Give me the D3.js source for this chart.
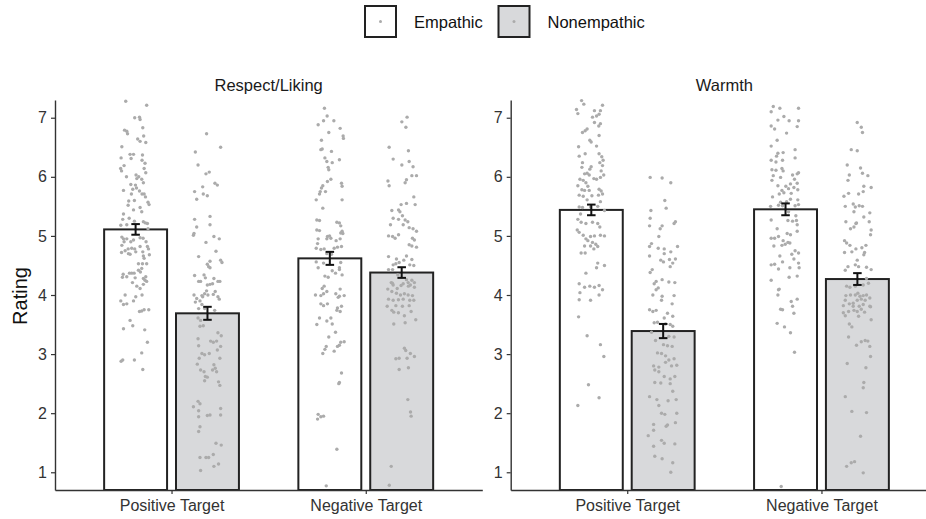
<!DOCTYPE html>
<html>
<head>
<meta charset="utf-8">
<script src="https://cdn.jsdelivr.net/npm/d3@7"></script>
<style>
  body { margin: 0; background: #fff; }
  text { font-family: "Liberation Sans", Arial, Helvetica, sans-serif; }
</style>
</head>
<body>
<div id="chart"></div>
<script>
const facets = ["Respect/Liking", "Warmth"];
const targets = ["Positive Target", "Negative Target"];
const conditions = ["Empathic", "Nonempathic"];
const ratingTicks = [1, 2, 3, 4, 5, 6, 7];

// order: positive/empathic, positive/nonempathic, negative/empathic, negative/nonempathic
const respectMean = [5.11, 3.69, 4.62, 4.38];
const respectSE = [0.09, 0.11, 0.11, 0.09];
const warmthMean = [5.44, 3.39, 5.45, 4.27];
const warmthSE = [0.09, 0.12, 0.10, 0.10];

// individual ratings as [jitter (-1..1), rating]
const respectPosEmp = [[-0.66,7.28],[0.74,7.21],[-0.06,7.00],[0.26,7.01],[0.30,6.97],[-0.74,6.79],[-0.59,6.77],[-0.54,6.73],[0.48,6.83],[0.14,6.64],[0.30,6.60],[0.54,6.69],[0.68,6.58],[-0.92,6.51],[-0.37,6.38],[-0.14,6.38],[0.46,6.37],[-0.97,6.32],[-0.30,6.31],[0.43,6.28],[-1.0,6.14],[-0.77,6.19],[-0.94,6.10],[0.63,6.23],[0.57,6.14],[-0.61,6.00],[0.03,6.03],[0.21,6.00],[0.08,5.97],[0.68,6.07],[0.41,5.96],[0.52,5.90],[-0.01,5.86],[-0.32,5.87],[-0.19,5.79],[0.06,5.81],[-0.81,5.77],[0.26,5.76],[0.43,5.71],[0.57,5.71],[-0.28,5.71],[0.66,5.66],[-0.08,5.60],[-0.46,5.59],[-0.50,5.52],[0.83,5.57],[0.90,5.53],[-0.81,5.37],[-0.14,5.44],[0.30,5.48],[0.41,5.41],[-0.43,5.30],[-0.86,5.28],[-0.08,5.25],[0.52,5.24],[0.66,5.22],[0.79,5.21],[-0.99,5.18],[-0.59,5.19],[0.83,5.12],[-0.92,4.98],[-0.81,4.95],[-0.59,4.95],[-0.77,4.90],[-0.32,4.90],[-0.14,4.93],[0.30,4.97],[0.50,4.96],[0.70,4.90],[0.79,4.82],[-0.92,4.84],[-0.70,4.75],[-0.50,4.78],[-0.26,4.79],[-0.06,4.78],[0.01,4.73],[0.30,4.82],[0.48,4.73],[0.86,4.78],[0.92,4.68],[-0.94,4.72],[-0.48,4.70],[-0.37,4.69],[0.52,4.66],[0.57,4.62],[0.74,4.53],[0.19,4.53],[0.46,4.53],[0.19,4.42],[0.32,4.39],[0.41,4.45],[-0.26,4.37],[-0.41,4.37],[-0.10,4.37],[-0.83,4.35],[-0.88,4.30],[-0.59,4.31],[-0.03,4.29],[0.52,4.28],[0.68,4.31],[0.63,4.25],[0.74,4.23],[0.52,4.18],[0.08,4.15],[0.30,4.11],[-0.21,4.21],[0.43,4.00],[0.01,3.97],[-0.70,4.00],[-0.14,3.90],[-0.99,3.90],[-0.81,3.84],[-0.59,3.85],[0.26,3.72],[0.41,3.73],[0.57,3.75],[0.88,3.75],[-0.37,3.57],[-0.19,3.48],[-0.81,3.43],[0.61,3.41],[0.79,3.20],[0.41,3.02],[-0.86,2.90],[-0.97,2.88],[-0.08,2.90],[0.48,2.74]];
const respectPosNon = [[-0.06,6.73],[0.88,6.50],[-0.81,6.42],[-0.63,6.20],[-0.10,6.05],[0.12,6.08],[0.50,5.89],[0.66,5.86],[-0.32,5.83],[-0.86,5.75],[-0.72,5.62],[-0.28,5.71],[-0.01,5.68],[-0.86,5.28],[-0.72,5.15],[-0.90,5.04],[-0.94,5.01],[0.17,5.33],[0.17,5.19],[-0.10,4.89],[0.43,4.99],[0.79,4.95],[0.57,4.74],[-0.59,4.65],[0.17,4.57],[0.88,4.59],[0.97,4.55],[-0.01,4.52],[0.17,4.46],[0.08,4.48],[-0.86,4.33],[-0.59,4.23],[-0.46,4.23],[-0.14,4.29],[-0.23,4.34],[0.43,4.28],[0.70,4.23],[-0.01,4.17],[0.17,4.18],[0.34,4.19],[0.83,4.23],[-0.90,4.00],[-0.72,3.94],[-0.32,3.97],[-0.19,4.02],[-0.06,4.07],[0.03,4.00],[-0.37,3.99],[0.39,4.01],[0.52,4.06],[0.70,3.97],[-0.50,3.90],[-0.81,3.88],[0.79,3.93],[-0.37,3.84],[-0.59,3.77],[-0.19,3.77],[0.48,3.74],[-0.63,3.61],[-0.46,3.57],[-0.50,3.47],[-0.28,3.48],[0.70,3.36],[0.92,3.31],[0.21,3.22],[0.39,3.20],[0.61,3.22],[-0.63,3.26],[-0.59,3.14],[0.88,3.13],[0.66,3.07],[-0.37,3.01],[-0.19,2.99],[0.12,3.01],[-0.55,2.93],[0.43,2.82],[0.83,2.93],[-0.68,2.83],[-0.46,2.73],[-0.23,2.70],[0.34,2.73],[0.61,2.70],[0.52,2.76],[-0.14,2.62],[-0.01,2.61],[-0.19,2.55],[0.74,2.53],[0.83,2.47],[-0.63,2.20],[-0.50,2.16],[-0.94,2.11],[-0.59,2.04],[0.88,2.08],[-0.01,1.96],[0.17,1.97],[-0.59,1.94],[0.88,1.97],[-0.50,1.77],[-0.59,1.69],[0.57,1.49],[0.92,1.46],[-0.50,1.25],[-0.10,1.25],[0.08,1.25],[0.39,1.30],[0.74,1.14],[0.43,1.10],[-0.46,1.03]];
const respectNegEmp = [[-0.36,7.16],[-0.18,7.03],[-0.42,6.95],[-0.78,6.88],[0.27,6.95],[-0.07,6.75],[0.69,6.82],[0.89,6.69],[0.91,6.65],[-0.56,6.62],[-0.51,6.47],[-0.60,6.46],[0.11,6.43],[-0.33,6.32],[-0.20,6.26],[0.16,6.24],[0.64,6.29],[-0.11,6.16],[-0.07,6.12],[0.07,5.96],[-0.16,5.92],[-0.47,5.85],[-0.56,5.81],[0.78,5.89],[0.82,5.84],[-0.64,5.75],[-0.69,5.71],[-0.29,5.75],[-0.91,5.61],[0.82,5.61],[-0.47,5.47],[-0.87,5.27],[-0.69,5.26],[0.47,5.23],[0.64,5.22],[0.73,5.17],[-0.87,5.10],[-0.69,5.09],[-0.16,4.99],[-0.02,5.00],[0.07,4.96],[-0.20,4.95],[0.82,5.08],[0.73,5.05],[0.87,5.04],[-0.78,4.95],[-0.82,4.87],[0.42,4.92],[0.69,4.95],[-0.91,4.79],[-0.60,4.77],[-0.38,4.78],[0.29,4.79],[0.51,4.81],[0.78,4.82],[-0.20,4.70],[0.11,4.69],[-0.91,4.56],[-0.42,4.54],[0.73,4.55],[0.64,4.46],[-0.78,4.46],[0.16,4.41],[-0.33,4.32],[-0.11,4.30],[0.38,4.37],[0.82,4.34],[0.64,4.43],[-0.38,4.15],[-0.51,4.11],[0.69,4.10],[-0.20,4.06],[-0.96,4.00],[-0.60,3.99],[-0.42,4.02],[0.40,4.02],[0.56,3.96],[0.64,3.98],[0.96,3.99],[-0.60,3.85],[-0.42,3.82],[-0.16,3.85],[0.51,3.78],[0.69,3.72],[0.47,3.74],[0.78,3.81],[-0.69,3.61],[-0.87,3.50],[-0.20,3.56],[0.07,3.61],[0.16,3.51],[-0.07,3.29],[0.38,3.37],[0.51,3.13],[0.64,3.15],[0.96,3.21],[0.73,3.20],[-0.24,3.13],[-0.33,3.08],[-0.47,3.01],[0.29,3.05],[0.78,2.68],[0.64,2.52],[0.60,2.50],[-0.78,1.98],[-0.60,1.94],[-0.82,1.90],[-0.42,1.95],[0.47,1.39],[-0.24,0.77]];
const respectNegNon = [[0.36,7.01],[0.01,6.93],[0.28,6.84],[-0.84,6.50],[0.45,6.44],[-0.57,6.30],[0.50,6.26],[0.01,6.20],[0.76,6.17],[0.99,6.02],[0.68,6.02],[-0.92,5.93],[-0.84,5.85],[0.32,5.95],[0.23,5.90],[0.81,5.66],[0.32,5.55],[0.90,5.53],[-0.04,5.53],[-0.66,5.43],[-0.21,5.44],[-0.12,5.41],[0.05,5.34],[-0.57,5.30],[-0.21,5.28],[0.23,5.27],[0.41,5.24],[-0.75,5.19],[0.10,5.19],[0.50,5.14],[0.76,5.12],[0.99,5.08],[-0.88,5.00],[-0.61,4.99],[-0.44,4.96],[-0.21,5.02],[0.72,4.96],[0.85,4.93],[0.50,4.85],[0.68,4.83],[0.99,4.81],[-0.88,4.65],[-0.35,4.61],[0.32,4.66],[0.68,4.60],[-0.57,4.51],[-0.39,4.53],[-0.17,4.55],[0.14,4.59],[0.54,4.51],[0.81,4.50],[-0.88,4.43],[-0.61,4.43],[-0.26,4.34],[-0.70,4.21],[-0.57,4.17],[0.32,4.26],[0.68,4.25],[0.85,4.21],[-0.04,4.16],[0.45,4.15],[-0.30,4.11],[-0.62,4.20],[0.10,4.19],[0.43,4.21],[0.58,4.17],[0.85,4.13],[-0.93,4.10],[-0.66,4.06],[-0.35,4.03],[-0.08,4.00],[0.18,4.02],[0.43,4.00],[0.72,3.99],[-0.88,3.93],[-0.57,3.91],[-0.22,3.92],[0.10,3.93],[0.54,3.91],[0.81,3.91],[-0.97,3.81],[-0.39,3.82],[0.05,3.81],[0.50,3.82],[-0.66,3.74],[-0.53,3.71],[-0.22,3.70],[0.18,3.65],[0.63,3.72],[0.94,3.58],[-0.53,3.51],[0.23,3.53],[0.18,3.10],[0.27,3.06],[0.58,3.01],[0.85,2.96],[-0.39,2.92],[-0.17,2.93],[0.36,2.93],[-0.17,2.74],[0.45,2.77],[0.41,2.23],[0.59,2.02],[0.63,1.95],[-0.70,1.10],[-0.83,0.78]];
const warmthPosEmp = [[-0.65,7.29],[-0.50,7.23],[-0.99,7.14],[-0.90,7.07],[0.21,7.12],[0.61,7.12],[0.75,7.21],[0.52,7.06],[0.08,7.01],[0.35,7.03],[0.61,6.90],[0.50,6.86],[0.21,6.92],[-0.59,6.75],[-0.41,6.78],[-0.28,6.81],[0.52,6.70],[-0.10,6.62],[-0.01,6.59],[0.35,6.52],[-0.85,6.51],[-0.41,6.39],[0.52,6.39],[0.70,6.34],[0.79,6.28],[-0.81,6.35],[-0.59,6.24],[-0.63,6.16],[-0.01,6.17],[-0.10,6.13],[0.57,6.24],[0.75,6.19],[0.66,6.10],[-0.45,6.05],[-0.28,6.06],[-0.14,6.03],[-0.76,5.96],[-0.54,5.94],[0.17,5.97],[0.35,5.96],[0.61,5.99],[0.83,6.03],[-0.36,5.90],[-0.23,5.84],[-0.90,5.85],[-0.63,5.78],[-0.45,5.77],[-0.14,5.77],[0.52,5.79],[0.66,5.76],[-0.81,5.69],[-0.54,5.67],[0.04,5.68],[0.48,5.69],[0.75,5.71],[-0.28,5.61],[0.61,5.58],[-0.81,5.49],[-0.59,5.48],[-0.05,5.49],[0.43,5.50],[0.88,5.43],[-0.72,5.37],[-0.90,5.28],[-0.68,5.23],[-0.36,5.21],[0.08,5.23],[0.43,5.21],[0.57,5.15],[-0.94,5.10],[-0.81,5.06],[-0.54,5.01],[-0.05,4.99],[0.21,5.00],[0.61,5.01],[0.88,5.00],[-0.36,4.95],[-0.23,4.92],[0.08,4.89],[0.30,4.86],[0.43,4.82],[0.17,4.78],[-0.45,4.83],[-0.05,4.83],[-0.68,4.71],[-0.41,4.71],[0.43,4.54],[0.35,4.46],[0.88,4.50],[-0.36,4.37],[-0.81,4.19],[-0.45,4.13],[-0.10,4.15],[0.21,4.13],[0.52,4.16],[0.75,4.09],[0.52,4.00],[-0.76,4.04],[-0.81,3.92],[-0.05,3.91],[-0.85,3.63],[-0.28,3.31],[0.61,3.16],[0.84,2.96],[-0.19,2.48],[0.52,2.26],[-0.90,2.13]];
const warmthPosNon = [[-0.87,5.99],[-0.07,5.98],[0.51,5.90],[0.11,5.60],[-0.82,5.43],[0.20,5.47],[-0.87,5.30],[-0.91,5.17],[-0.07,5.17],[-0.20,5.12],[0.82,5.24],[0.73,5.21],[-0.29,4.99],[-0.78,4.87],[-0.91,4.82],[-0.33,4.79],[0.07,4.78],[0.96,4.82],[-0.91,4.66],[0.07,4.70],[0.51,4.73],[-0.16,4.59],[0.02,4.56],[0.42,4.60],[0.82,4.61],[0.64,4.54],[0.47,4.48],[-0.73,4.43],[-0.87,4.38],[-0.47,4.23],[-0.60,4.19],[-0.07,4.26],[0.38,4.22],[0.78,4.21],[-0.33,4.12],[-0.69,4.00],[-0.47,4.09],[-0.07,3.98],[0.73,3.99],[-0.11,3.91],[0.60,3.85],[-0.91,3.75],[-0.69,3.72],[-0.47,3.74],[0.29,3.69],[0.07,3.61],[0.64,3.64],[-0.60,3.53],[-0.38,3.54],[0.16,3.51],[0.47,3.50],[0.64,3.47],[-0.78,3.37],[0.38,3.30],[0.73,3.29],[-0.51,3.23],[0.02,3.16],[0.29,3.14],[0.60,3.13],[-0.38,3.02],[-0.11,3.01],[0.16,2.97],[0.38,2.90],[0.73,2.92],[-0.64,2.80],[-0.29,2.78],[0.16,2.86],[0.56,2.80],[0.91,2.81],[-0.56,2.73],[-0.29,2.70],[0.07,2.62],[0.47,2.58],[0.78,2.62],[-0.56,2.52],[-0.16,2.51],[0.47,2.50],[0.64,2.37],[-0.91,2.28],[-0.42,2.23],[0.33,2.21],[0.87,2.23],[-0.29,2.13],[-0.11,2.00],[0.11,1.98],[0.91,2.00],[-0.64,1.81],[0.29,1.80],[0.20,1.78],[0.82,1.84],[-0.64,1.71],[-1.0,1.62],[-0.11,1.54],[0.07,1.49],[0.78,1.48],[-0.64,1.44],[-0.56,1.27],[-0.07,1.23],[0.64,1.16],[0.51,1.00]];
const warmthNegEmp = [[-0.82,7.19],[-0.38,7.16],[-0.96,7.10],[0.87,7.16],[-0.11,7.02],[-0.51,6.96],[0.24,6.95],[0.87,6.95],[0.78,6.85],[-0.96,6.86],[-0.73,6.81],[0.07,6.74],[-0.56,6.62],[-0.96,6.52],[-0.51,6.40],[-0.16,6.41],[0.64,6.46],[-0.60,6.35],[0.64,6.32],[-0.96,6.28],[-0.64,6.25],[-0.20,6.28],[-0.91,6.12],[-0.64,6.11],[-0.24,6.14],[-0.16,6.10],[0.87,6.07],[0.78,6.05],[-0.82,6.02],[-0.33,5.99],[0.47,6.03],[-0.91,5.94],[0.60,5.96],[0.33,5.88],[0.78,5.89],[-0.51,5.85],[0.02,5.84],[0.20,5.80],[0.56,5.82],[0.82,5.78],[-0.24,5.77],[-0.11,5.73],[-0.42,5.71],[0.38,5.72],[-0.87,5.66],[0.33,5.62],[0.82,5.61],[-0.33,5.57],[0.07,5.58],[-1.0,5.50],[-0.47,5.52],[-0.20,5.51],[0.64,5.51],[0.87,5.53],[0.20,5.41],[0.69,5.34],[0.73,5.26],[-0.96,5.27],[0.16,5.26],[0.47,5.25],[0.78,5.19],[-0.56,5.12],[0.11,5.04],[0.33,5.02],[-0.96,4.96],[-0.73,4.96],[-0.47,4.99],[-0.16,4.92],[0.16,4.89],[0.78,5.08],[-0.78,4.83],[-0.24,4.84],[-0.02,4.86],[0.29,4.88],[0.64,4.75],[0.87,4.71],[-0.38,4.66],[0.42,4.69],[-0.96,4.51],[-0.73,4.52],[-0.20,4.56],[0.56,4.61],[0.87,4.54],[-0.47,4.44],[0.29,4.46],[0.91,4.46],[-0.96,4.25],[0.24,4.30],[0.78,4.32],[-0.42,4.10],[-0.47,4.09],[-0.51,4.00],[0.38,3.89],[0.78,3.93],[0.47,3.81],[-0.33,3.76],[-0.20,3.75],[0.56,3.69],[-0.56,3.52],[-0.07,3.46],[0.33,3.36],[0.60,3.03],[-0.29,0.76]];
const warmthNegNon = [[-0.01,6.92],[0.26,6.84],[0.34,6.75],[-0.41,6.46],[-0.01,6.44],[-0.68,6.20],[0.21,6.15],[-0.54,6.03],[0.34,6.06],[0.70,6.02],[-0.63,5.94],[0.43,5.84],[0.92,5.82],[-0.90,5.67],[-0.59,5.72],[0.08,5.71],[0.39,5.75],[-0.81,5.50],[-0.28,5.54],[-0.14,5.49],[0.12,5.51],[0.34,5.50],[-0.23,5.41],[0.43,5.32],[0.83,5.39],[-0.77,5.24],[-0.06,5.22],[0.79,5.24],[-0.46,5.12],[-0.23,5.15],[-0.10,5.21],[0.92,5.10],[0.88,5.02],[-0.86,4.92],[-0.72,4.88],[-0.50,4.84],[-0.10,4.78],[-0.37,4.73],[0.30,4.80],[0.57,4.84],[0.48,4.72],[-0.86,4.72],[0.43,4.68],[-0.01,4.59],[-0.63,4.48],[-0.81,4.42],[-0.14,4.51],[0.08,4.48],[0.61,4.47],[0.92,4.43],[-0.72,4.15],[-0.50,4.13],[-0.14,4.15],[0.39,4.17],[0.74,4.20],[0.61,4.28],[-0.77,3.99],[-0.46,4.00],[-0.14,4.00],[0.03,4.03],[0.17,3.98],[0.39,3.99],[0.61,4.00],[0.83,3.95],[-0.81,3.91],[-0.28,3.86],[-0.01,3.91],[0.26,3.93],[0.52,3.91],[-0.94,3.82],[-0.54,3.85],[-0.28,3.81],[0.12,3.81],[0.39,3.84],[0.83,3.81],[-0.94,3.70],[-0.59,3.72],[-0.23,3.74],[-0.01,3.72],[0.26,3.76],[0.48,3.71],[0.88,3.80],[-0.81,3.65],[0.08,3.64],[0.92,3.58],[-0.54,3.51],[-0.37,3.46],[-0.59,3.29],[-0.06,3.15],[0.26,3.21],[0.52,3.23],[0.70,3.22],[0.83,3.13],[0.88,2.96],[-0.68,2.84],[0.57,2.77],[0.43,2.52],[0.39,2.43],[-0.81,2.28],[-0.37,2.03],[0.61,2.01],[0.21,1.61],[-0.72,1.10],[-0.41,1.16],[-0.19,1.18],[0.39,0.99]];

const panels = [
  { title: facets[0], mean: respectMean, se: respectSE,
    points: [respectPosEmp, respectPosNon, respectNegEmp, respectNegNon] },
  { title: facets[1], mean: warmthMean, se: warmthSE,
    points: [warmthPosEmp, warmthPosNon, warmthNegEmp, warmthNegNon] }
];

const width = 926, height = 519;
const panelX = [55, 510.7];
const panelW = 427.3;
const fills = ["#ffffff", "#d8d9db"];
const pointColor = "#ababab";
const ink = "#222222";

const svg = d3.select("#chart")
  .append("svg")
    .attr("width", width)
    .attr("height", height);

const y = d3.scaleLinear().domain([0.7, 7.3]).range([490, 100]);

const dodge = 0.185, barW = 0.324, jitter = 0.077, capW = 0.022;

panels.forEach((p, pi) => {
  const x = d3.scaleLinear().domain([0.4, 2.6]).range([panelX[pi], panelX[pi] + panelW]);
  const g = svg.append("g");

  const groups = [];
  targets.forEach((t, ti) => {
    conditions.forEach((c, ci) => {
      const k = ti * 2 + ci;
      groups.push({ cx: ti + 1 + (ci === 0 ? -dodge : dodge), ci: ci,
        mean: p.mean[k], se: p.se[k], pts: p.points[k] });
    });
  });

  // bars
  g.selectAll("rect.bar")
    .data(groups)
    .join("rect")
      .attr("class", "bar")
      .attr("x", d => x(d.cx - barW / 2))
      .attr("width", d => x(d.cx + barW / 2) - x(d.cx - barW / 2))
      .attr("y", d => y(d.mean))
      .attr("height", d => y(0.7) - y(d.mean))
      .attr("fill", d => fills[d.ci])
      .attr("stroke", ink)
      .attr("stroke-width", 2);

  // jittered ratings
  groups.forEach(d => {
    g.append("g").selectAll("circle")
      .data(d.pts)
      .join("circle")
        .attr("cx", q => x(d.cx + q[0] * jitter))
        .attr("cy", q => y(q[1]))
        .attr("r", 1.7)
        .attr("fill", pointColor);
  });

  // error bars
  const eb = g.selectAll("g.eb").data(groups).join("g").attr("class", "eb")
    .attr("stroke", "#111").attr("stroke-width", 2);
  eb.append("line")
    .attr("x1", d => x(d.cx)).attr("x2", d => x(d.cx))
    .attr("y1", d => y(d.mean - d.se)).attr("y2", d => y(d.mean + d.se));
  eb.append("line")
    .attr("x1", d => x(d.cx - capW)).attr("x2", d => x(d.cx + capW))
    .attr("y1", d => y(d.mean + d.se)).attr("y2", d => y(d.mean + d.se));
  eb.append("line")
    .attr("x1", d => x(d.cx - capW)).attr("x2", d => x(d.cx + capW))
    .attr("y1", d => y(d.mean - d.se)).attr("y2", d => y(d.mean - d.se));

  // axes
  const yAxis = g.append("g")
    .attr("transform", `translate(${panelX[pi]},0)`)
    .call(d3.axisLeft(y).tickValues(ratingTicks).tickFormat(d3.format("d"))
      .tickSize(4).tickSizeOuter(0).tickPadding(4));
  const xAxis = g.append("g")
    .attr("transform", `translate(0,${y(0.7)})`)
    .call(d3.axisBottom(x).tickValues([1, 2]).tickFormat((d, i) => targets[i])
      .tickSize(4).tickSizeOuter(0).tickPadding(6));
  [yAxis, xAxis].forEach(a => {
    a.select(".domain").attr("stroke", "#333").attr("stroke-width", 1.4);
    a.selectAll(".tick line").attr("stroke", "#333").attr("stroke-width", 1.2);
    a.selectAll(".tick text").attr("fill", "#333").style("font-size", "16px")
      .style("font-family", '"Liberation Sans", Arial, sans-serif');
  });

  // facet title
  g.append("text")
    .attr("x", panelX[pi] + panelW / 2)
    .attr("y", 91)
    .attr("text-anchor", "middle")
    .style("font-size", "16.5px")
    .attr("fill", "#1a1a1a")
    .text(p.title);
});

// y axis title
svg.append("text")
  .attr("transform", "translate(27,296) rotate(-90)")
  .attr("text-anchor", "middle")
  .style("font-size", "20px")
  .attr("fill", "#111")
  .text("Rating");

// legend
const legendX = [365, 498.5];
const legend = svg.append("g");
conditions.forEach((c, i) => {
  legend.append("rect")
    .attr("x", legendX[i]).attr("y", 6)
    .attr("width", 31).attr("height", 31)
    .attr("fill", fills[i])
    .attr("stroke", ink).attr("stroke-width", 2);
  legend.append("circle")
    .attr("cx", legendX[i] + 15.5).attr("cy", 21.5)
    .attr("r", 1.5).attr("fill", pointColor);
  legend.append("text")
    .attr("x", legendX[i] + 49).attr("y", 28)
    .style("font-size", "16.5px")
    .attr("fill", "#111")
    .text(c);
});
</script>
</body>
</html>
